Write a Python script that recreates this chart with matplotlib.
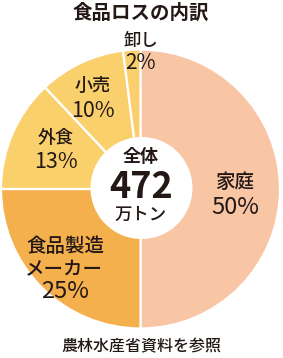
import matplotlib
matplotlib.use("Agg")
import matplotlib.pyplot as plt
from matplotlib.patches import Circle

plt.rcParams['font.family'] = ['Noto Sans CJK JP', 'DejaVu Sans']

# Data
categories = ['家庭', '食品製造\nメーカー', '外食', '小売', '卸し']
values = [50, 25, 13, 10, 2]
pct_labels = ['50%', '25%', '13%', '10%', '2%']
title = '食品ロスの内訳'
center_top = '全体'
center_value = '472'
center_unit = '万トン'
source = '農林水産省資料を参照'

colors = ['#F8C6A5', '#F5B04E', '#FAD06C', '#FAD06C', '#FAD06C']
txt = '#231815'

W, H = 283, 358
fig = plt.figure(figsize=(W / 100, H / 100), dpi=100)
ax = fig.add_axes([0, 0, 1, 1])

cx, cy, r = 140.5, H - 189, 139.5
ax.pie(values, startangle=90, counterclock=False, colors=colors,
       center=(cx, cy), radius=r,
       wedgeprops=dict(edgecolor='white', linewidth=1.6))
ax.add_patch(Circle((cx + 1, H - 188), 51, facecolor='white', edgecolor='none', zorder=5))

ax.set_xlim(0, W)
ax.set_ylim(0, H)
ax.set_aspect('auto')
ax.axis('off')

def t(x, y, s, size, weight=500, **kw):
    ax.text(x, H - y, s, fontsize=size, fontweight=weight, color=txt,
            ha='center', va='center', zorder=10, **kw)

t(141, 13, title, 14, 'bold')

# label layout (image pixel coords): x, name y, pct y, name size, pct size
label_pos = [(235, 182, 208, 14, 17), (65, 247, 291, 14, 17),
             (56, 138, 162, 13, 15.5), (93, 86, 111, 13, 15.5),
             (141, 41, 63, 12.5, 15)]
for (x, yn, yp, ns, ps), name, pct in zip(label_pos, categories, pct_labels):
    if '\n' in name:
        a, b = name.split('\n')
        t(x, yn, a, ns)
        t(x - 1, yn + 23, b, ns)
    else:
        t(x, yn, name, ns)
    t(x, yp, pct, ps, weight='normal')

t(141, 157, center_top, 13, 'bold')
t(141, 187, center_value, 26, 'bold')
t(141, 215, center_unit, 12.5)

t(141, 347, source, 11.5)

fig.savefig('out.png', dpi=100, facecolor='white')
